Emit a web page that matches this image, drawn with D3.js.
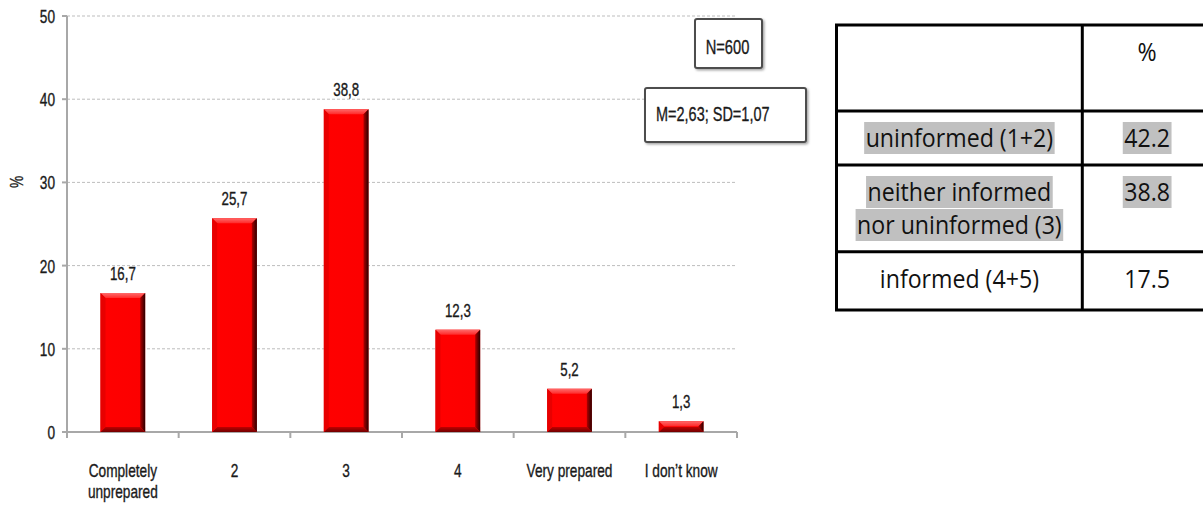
<!DOCTYPE html>
<html>
<head>
<meta charset="utf-8">
<script src="https://cdn.jsdelivr.net/npm/d3@7/dist/d3.min.js"></script>
<style>
  html, body { margin: 0; padding: 0; background: #fff; }
  svg { display: block; }
</style>
</head>
<body>
<svg id="chart" width="1203" height="506"></svg>
<script>
// ---- data ----
const categories = ["Completely\nunprepared", "2", "3", "4", "Very prepared", "I don\u2019t know"];
const values = [16.7, 25.7, 38.8, 12.3, 5.2, 1.3];
const yTicks = [0, 10, 20, 30, 40, 50];
const yLabel = "%";
const sampleNote = "N=600";
const statsNote = "M=2,63; SD=1,07";

const tableHeader = ["", "%"];
const groupLabels = [["uninformed (1+2)"], ["neither informed", "nor uninformed (3)"], ["informed (4+5)"]];
const groupValues = [42.2, 38.8, 17.5];
const groupShaded = [true, true, false];

// ---- layout ----
const svg = d3.select("#chart");
const plot = { left: 67, right: 737, top: 16, bottom: 432 };
const chartFont = "'Liberation Sans', Arial, sans-serif";
const tableFont = "'Open Sans', 'Noto Sans', sans-serif";
const squeeze = 0.76;          // narrow glyph width used by the chart labels
const textColor = "#1a1a1a";

const x = d3.scaleBand()
  .domain(categories)
  .range([plot.left, plot.right])
  .paddingInner(0.6)
  .paddingOuter(0.3);
const y = d3.scaleLinear().domain([0, 50]).range([plot.bottom, plot.top]);

const commaFmt = v => d3.format(".1f")(v).replace(".", ",");

// text helper: narrow labels drawn by squeezing horizontally
function narrowText(g, px, py, str, size, anchor, sx = squeeze, rot = 0) {
  return g.append("text")
    .attr("transform", `translate(${px},${py}) rotate(${rot}) scale(${sx},1)`)
    .attr("text-anchor", anchor)
    .attr("font-family", chartFont)
    .attr("font-size", size)
    .attr("fill", textColor)
    .attr("stroke", textColor)
    .attr("stroke-width", 0.35)
    .text(str);
}

// ---- gradients for the bevelled bars ----
const defs = svg.append("defs");
const faceGrad = defs.append("linearGradient").attr("id", "face").attr("x1", 0).attr("x2", 1).attr("y1", 0).attr("y2", 0);
faceGrad.append("stop").attr("offset", "0%").attr("stop-color", "#e00000");
faceGrad.append("stop").attr("offset", "10%").attr("stop-color", "#ff0000");
faceGrad.append("stop").attr("offset", "100%").attr("stop-color", "#fb0000");
const topGrad = defs.append("linearGradient").attr("id", "bevelTop").attr("x1", 0).attr("x2", 0).attr("y1", 0).attr("y2", 1);
topGrad.append("stop").attr("offset", "0%").attr("stop-color", "#ff6a6a");
topGrad.append("stop").attr("offset", "100%").attr("stop-color", "#ff2a2a");
const rightGrad = defs.append("linearGradient").attr("id", "bevelRight").attr("x1", 0).attr("x2", 1).attr("y1", 0).attr("y2", 0);
rightGrad.append("stop").attr("offset", "0%").attr("stop-color", "#b00000");
rightGrad.append("stop").attr("offset", "100%").attr("stop-color", "#2a0000");
const botGrad = defs.append("linearGradient").attr("id", "bevelBottom").attr("x1", 0).attr("x2", 0).attr("y1", 0).attr("y2", 1);
botGrad.append("stop").attr("offset", "0%").attr("stop-color", "#c00000");
botGrad.append("stop").attr("offset", "100%").attr("stop-color", "#700000");
const shadow = defs.append("filter").attr("id", "boxShadow").attr("x", "-10%").attr("y", "-10%").attr("width", "130%").attr("height", "140%");
shadow.append("feDropShadow").attr("dx", 1.5).attr("dy", 1.5).attr("stdDeviation", 1).attr("flood-color", "#000").attr("flood-opacity", 0.35);

// ---- gridlines ----
const grid = svg.append("g");
grid.selectAll("line")
  .data(yTicks.filter(t => t > 0))
  .join("line")
  .attr("x1", plot.left).attr("x2", plot.right)
  .attr("y1", d => y(d)).attr("y2", d => y(d))
  .attr("stroke", "#bdbdbd")
  .attr("stroke-width", 1)
  .attr("stroke-dasharray", "3,2");

// ---- y axis ----
const yAxis = svg.append("g");
yAxis.append("line")
  .attr("x1", plot.left).attr("x2", plot.left)
  .attr("y1", y(50)).attr("y2", plot.bottom + 6)
  .attr("stroke", "#a8a8a8").attr("stroke-width", 2);
yAxis.selectAll(".tick")
  .data(yTicks)
  .join("line")
  .attr("x1", plot.left - 5).attr("x2", plot.left)
  .attr("y1", d => y(d)).attr("y2", d => y(d))
  .attr("stroke", "#a8a8a8").attr("stroke-width", 2);
yTicks.forEach(t => narrowText(yAxis, 55, y(t) + 7, String(t), 18, "end"));
narrowText(yAxis, 23, 182, yLabel, 18, "middle", squeeze, -90);

// ---- x axis ----
const xAxis = svg.append("g");
xAxis.append("line")
  .attr("x1", plot.left).attr("x2", plot.right)
  .attr("y1", plot.bottom).attr("y2", plot.bottom)
  .attr("stroke", "#a8a8a8").attr("stroke-width", 2);
const step = x.step();
const bounds = categories.map(c => x(c) - step * x.paddingInner() / 2).concat([plot.right]);
xAxis.selectAll(".xt")
  .data(bounds)
  .join("line")
  .attr("x1", d => d).attr("x2", d => d)
  .attr("y1", plot.bottom).attr("y2", plot.bottom + 6)
  .attr("stroke", "#a8a8a8").attr("stroke-width", 2);
categories.forEach(c => {
  c.split("\n").forEach((line, i) => {
    narrowText(xAxis, x(c) + x.bandwidth() / 2, 477 + i * 21, line, 18, "middle");
  });
});

// ---- bars ----
const bars = svg.append("g");
const bev = 5;
values.forEach((v, i) => {
  const x0 = x(categories[i]);
  const x1 = x0 + x.bandwidth();
  const yt = y(v);
  const yb = y(0);
  const b = Math.min(bev, (yb - yt) / 2);
  const g = bars.append("g");
  g.append("rect").attr("x", x0).attr("y", yt).attr("width", x1 - x0).attr("height", yb - yt).attr("fill", "url(#face)");
  g.append("polygon").attr("points", [[x0, yt], [x1, yt], [x1 - b, yt + b], [x0 + b, yt + b]].join(" ")).attr("fill", "url(#bevelTop)");
  g.append("polygon").attr("points", [[x1, yt], [x1, yb], [x1 - b, yb - b], [x1 - b, yt + b]].join(" ")).attr("fill", "url(#bevelRight)");
  g.append("polygon").attr("points", [[x0, yb], [x1, yb], [x1 - b, yb - b], [x0 + b, yb - b]].join(" ")).attr("fill", "url(#bevelBottom)");
  g.append("polygon").attr("points", [[x0, yt], [x0 + b, yt + b], [x0 + b, yb - b], [x0, yb]].join(" ")).attr("fill", "#e80000");
  narrowText(bars, (x0 + x1) / 2, yt - 13, commaFmt(v), 17.5, "middle");
});

// ---- note boxes ----
const notes = svg.append("g");
notes.append("rect").attr("x", 695).attr("y", 19).attr("width", 67).attr("height", 49).attr("rx", 2)
  .attr("fill", "#fff").attr("stroke", "#4d4d4d").attr("stroke-width", 2).attr("filter", "url(#boxShadow)");
narrowText(notes, 727.5, 53.5, sampleNote, 21, "middle", 0.7);
notes.append("rect").attr("x", 645).attr("y", 88).attr("width", 161).attr("height", 54).attr("rx", 2)
  .attr("fill", "#fff").attr("stroke", "#4d4d4d").attr("stroke-width", 2).attr("filter", "url(#boxShadow)");
narrowText(notes, 656, 120.5, statsNote, 21, "start", 0.69);

// ---- summary table ----
const table = svg.append("g");
const colX = [836.5, 1082.3, 1212];
const rowY = [25, 111, 165, 251.7, 310];
const tSize = 26, tSx = 0.89, lineGap = 33;
const midL = (colX[0] + colX[1]) / 2, midR = (colX[1] + colX[2]) / 2;

function tableText(px, py, str, shaded) {
  const t = table.append("text")
    .attr("transform", `translate(${px},${py}) scale(${tSx},1)`)
    .attr("text-anchor", "middle")
    .attr("font-family", tableFont)
    .attr("font-size", tSize)
    .attr("fill", "#111")
    .text(str);
  if (shaded) {
    const w = t.node().getComputedTextLength() * tSx;
    table.insert("rect", "text")
      .attr("x", px - w / 2 - 1.5).attr("y", py - 25)
      .attr("width", w + 3).attr("height", 32)
      .attr("fill", "#c0c0c0");
  }
  return t;
}

tableText(midR, rowY[0] + 36, tableHeader[1], false);
tableText(midL, rowY[0] + 36, tableHeader[0], false);
groupLabels.forEach((lines, i) => {
  const base = rowY[i + 1] + 36;
  lines.forEach((line, j) => tableText(midL, base + j * lineGap, line, groupShaded[i]));
  tableText(midR, base, d3.format(".1f")(groupValues[i]), groupShaded[i]);
});

// grid of the table
const lw = 3;
rowY.forEach(yy => table.append("line").attr("x1", colX[0] - lw / 2).attr("x2", colX[2]).attr("y1", yy).attr("y2", yy)
  .attr("stroke", "#000").attr("stroke-width", lw));
colX.forEach(xx => table.append("line").attr("x1", xx).attr("x2", xx).attr("y1", rowY[0]).attr("y2", rowY[rowY.length - 1])
  .attr("stroke", "#000").attr("stroke-width", lw));
</script>
</body>
</html>
